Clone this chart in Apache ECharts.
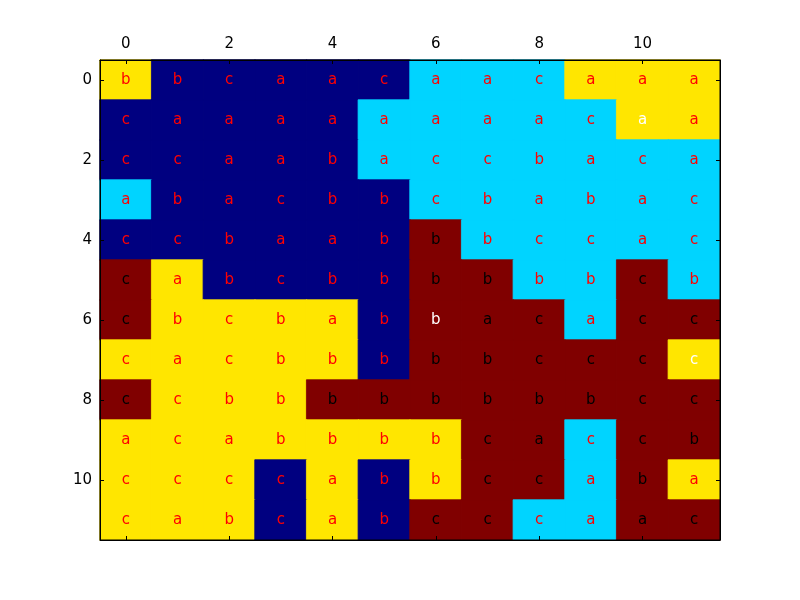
<!DOCTYPE html>
<html><head><meta charset="utf-8">
<script src="https://cdn.jsdelivr.net/npm/echarts@6/dist/echarts.min.js"></script>
<style>html,body{margin:0;padding:0;background:#fff}#c{width:800px;height:600px}</style>
</head><body><div id="c"></div>
<script>
const xCats = ['0','1','2','3','4','5','6','7','8','9','10','11'];
const yCats = ['0','1','2','3','4','5','6','7','8','9','10','11'];
// 0 navy, 1 cyan, 2 yellow, 3 dark red
const values = [
 [2,0,0,0,0,0,1,1,1,2,2,2],
 [0,0,0,0,0,1,1,1,1,1,2,2],
 [0,0,0,0,0,1,1,1,1,1,1,1],
 [1,0,0,0,0,0,1,1,1,1,1,1],
 [0,0,0,0,0,0,3,1,1,1,1,1],
 [3,2,0,0,0,0,3,3,1,1,3,1],
 [3,2,2,2,2,0,3,3,3,1,3,3],
 [2,2,2,2,2,0,3,3,3,3,3,2],
 [3,2,2,2,3,3,3,3,3,3,3,3],
 [2,2,2,2,2,2,2,3,3,1,3,3],
 [2,2,2,0,2,0,2,3,3,1,3,2],
 [2,2,2,0,2,0,3,3,1,1,3,3]
];
const letters = [
 'bbcaacaacaaa',
 'caaaaaaaacaa',
 'ccaabaccbaca',
 'abacbbcbabac',
 'ccbaabbbccac',
 'cabcbbbbbbcb',
 'cbcbabbacacc',
 'cacbbbbbcccc',
 'ccbbbbbbbbcc',
 'acabbbbcaccb',
 'ccccabbccaba',
 'cabcabcccaac'
];
// cells whose letter is drawn in white [row, col]
const whiteCells = [[1,10],[6,6],[7,11]];

const palette = ['#000080','#00d4ff','#ffe600','#800000'];
const data = [];
for (let r = 0; r < values.length; r++) {
  for (let c = 0; c < values[r].length; c++) {
    const v = values[r][c];
    let col = v === 3 ? '#000000' : '#ff0000';
    if (whiteCells.some(w => w[0] === r && w[1] === c)) col = '#ffffff';
    data.push({value: [c, r, v], label: {color: col},
      itemStyle: {color: palette[v], borderColor: palette[v], borderWidth: 0.8}});
  }
}
const font = 'DejaVu Sans';
const chart = echarts.init(document.getElementById('c'), null, {renderer: 'canvas'});
const axisCommon = {
  type: 'category', boundaryGap: true,
  axisLine: {show: true, lineStyle: {color: '#000', width: 1}},
  axisTick: {show: true, inside: true, alignWithLabel: true, interval: 1, length: 4, lineStyle: {color: '#000'}},
  splitLine: {show: false}, z: 10
};
chart.setOption({
  animation: false,
  grid: {left: 100, top: 60, width: 620, height: 480, show: true, z: 20,
    backgroundColor: 'transparent', borderColor: '#000', borderWidth: 1},
  xAxis: [
    Object.assign({}, axisCommon, {data: xCats, position: 'top',
      axisLabel: {interval: 1, color: '#000', fontFamily: font, fontSize: 15, margin: 8}}),
    Object.assign({}, axisCommon, {data: xCats, position: 'bottom', axisLabel: {show: false}})
  ],
  yAxis: [
    Object.assign({}, axisCommon, {data: yCats, inverse: true, position: 'left',
      axisLabel: {interval: 1, color: '#000', fontFamily: font, fontSize: 15, margin: 8}}),
    Object.assign({}, axisCommon, {data: yCats, inverse: true, position: 'right', axisLabel: {show: false}})
  ],
  series: [{
    type: 'heatmap', data: data,
    label: {show: true, fontFamily: font, fontSize: 15,
      formatter: p => letters[p.value[1]][p.value[0]]}
  }]
});
</script></body></html>
